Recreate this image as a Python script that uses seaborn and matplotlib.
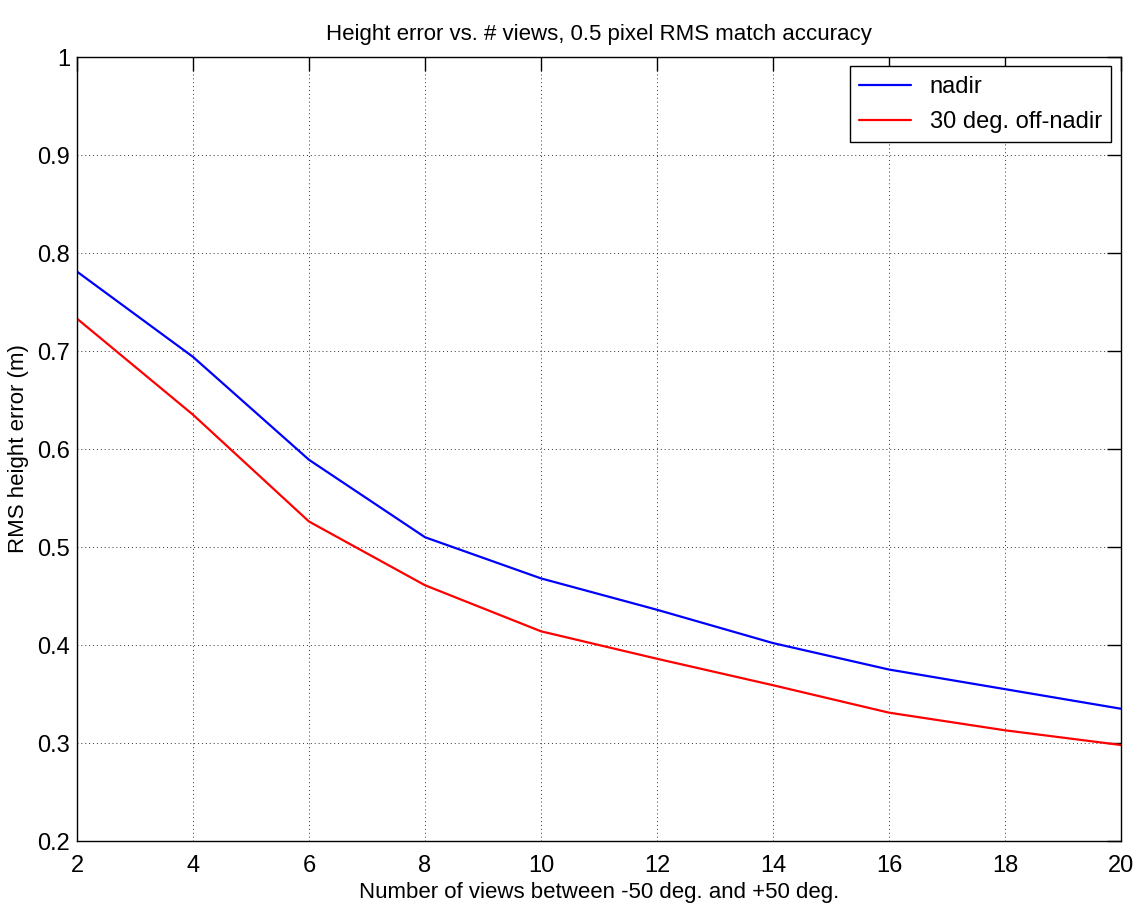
import numpy as np
import pandas as pd
import matplotlib
matplotlib.use("Agg")
import matplotlib.pyplot as plt
import seaborn as sns

# Number of views and RMS height error for the two viewing geometries
views = [2, 4, 6, 8, 10, 12, 14, 16, 18, 20]
nadir = [0.781, 0.694, 0.589, 0.510, 0.468, 0.436, 0.402, 0.375, 0.355, 0.335]
off_nadir = [0.733, 0.635, 0.526, 0.461, 0.414, 0.386, 0.359, 0.331, 0.313, 0.298]
series_names = ["nadir", "30 deg. off-nadir"]
x_ticks = [2, 4, 6, 8, 10, 12, 14, 16, 18, 20]
y_ticks = [0.2, 0.3, 0.4, 0.5, 0.6, 0.7, 0.8, 0.9, 1.0]
y_tick_labels = ["0.2", "0.3", "0.4", "0.5", "0.6", "0.7", "0.8", "0.9", "1"]

df = pd.DataFrame({
    "views": views * 2,
    "err": nadir + off_nadir,
    "series": [series_names[0]] * len(views) + [series_names[1]] * len(views),
})

sns.set_style("white")
plt.rcParams["font.family"] = ["Liberation Sans Narrow", "Liberation Sans", "DejaVu Sans"]
plt.rcParams["text.color"] = "black"
plt.rcParams["axes.labelcolor"] = "black"

fig = plt.figure(figsize=(11.38, 9.11), dpi=100)
ax = fig.add_axes([0.0677, 0.0768, 0.9173, 0.8606])

sns.lineplot(data=df, x="views", y="err", hue="series", hue_order=series_names,
             palette=["#0000ff", "#ff0000"], linewidth=1.6, ax=ax, legend=True)

ax.set_xlim(2, 20)
ax.set_ylim(0.2, 1.0)
ax.set_xticks(x_ticks)
ax.set_xticklabels([str(v) for v in x_ticks])
ax.set_yticks(y_ticks)
ax.set_yticklabels(y_tick_labels)

ax.grid(True, color="black", linestyle=(0, (1, 3)), linewidth=0.7, alpha=0.8)
ax.tick_params(direction="in", length=10, width=1, top=True, right=True,
               labelsize=17, colors="black")
ax.tick_params(axis="x", pad=10)
ax.tick_params(axis="y", pad=5)
for s in ax.spines.values():
    s.set_visible(True)
    s.set_color("black")
    s.set_linewidth(1.0)

ax.set_xlabel("Number of views between -50 deg. and +50 deg.", fontsize=16, labelpad=4)
ax.set_ylabel("RMS height error (m)", fontsize=16, labelpad=6)
ax.set_title("Height error vs. # views, 0.5 pixel RMS match accuracy", fontsize=16, pad=12)

leg = ax.legend(loc="upper right", fontsize=17, frameon=True, fancybox=False,
                edgecolor="black", framealpha=1, handlelength=2.2,
                borderaxespad=0.4, labelspacing=0.55)
leg.get_frame().set_linewidth(1.0)

fig.savefig("out.png", dpi=100)
